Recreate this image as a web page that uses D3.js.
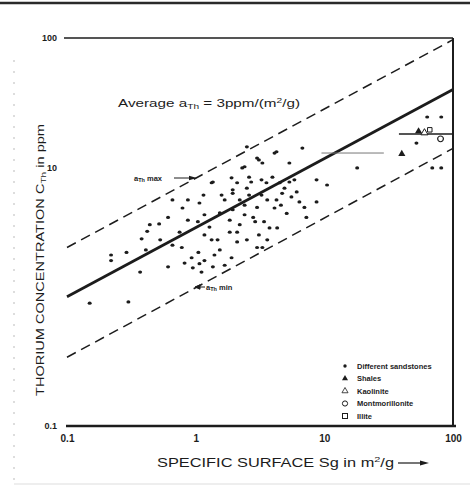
<!DOCTYPE html>
<html>
<head>
<meta charset="utf-8">
<script src="https://cdn.jsdelivr.net/npm/d3@7"></script>
<style>
  html, body { margin: 0; padding: 0; background: #fff; }
  svg { display: block; }
  text { font-family: "Liberation Sans", Arial, sans-serif; fill: #1c1c1c; }
</style>
</head>
<body>
<svg id="chart" width="470" height="487"></svg>
<script>
// Specific surface Sg (m²/g) vs thorium concentration C_Th (ppm), log–log.
const xTicks = [0.1, 1, 10, 100];
const xTickLabels = ["0.1", "1", "10", "100"];
const yTicks = [0.1, 10, 100];
const yTickLabels = ["0.1", "10", "100"];

// Regression line (average a_Th) and the a_Th max / a_Th min envelope
const fitLine = [[0.1, 1.0], [100, 40]];
const upperBound = [[0.1, 2.4], [100, 97]];
const lowerBound = [[0.1, 0.34], [100, 14]];

// Different sandstones: [Sg, C_Th]
const sandstones = [
  [0.15, 0.89], [0.30, 0.91], [0.22, 2.1], [0.22, 1.9], [0.29, 2.2], [0.37, 1.55],
  [0.41, 2.3], [0.38, 2.8], [0.42, 3.2], [0.44, 3.6], [0.52, 3.65], [0.61, 4.1],
  [0.61, 1.7], [0.66, 2.5], [0.78, 2.4], [0.66, 5.6], [0.79, 4.85], [0.87, 5.6],
  [0.87, 3.9], [0.95, 1.67], [0.93, 2.0], [1.05, 2.2], [1.17, 1.9], [1.07, 1.8],
  [1.11, 1.55], [1.36, 1.7], [1.54, 2.3], [1.33, 2.75], [1.48, 2.75], [1.17, 3.0],
  [1.28, 3.45], [1.07, 5.3], [1.17, 4.3], [1.04, 3.8], [1.33, 7.6], [1.15, 6.1],
  [1.9, 2.0], [1.84, 3.15], [2.1, 3.15], [1.84, 3.9], [1.94, 4.7], [2.1, 2.65],
  [2.5, 2.75], [2.8, 4.1], [2.9, 3.8], [3.0, 4.9], [3.4, 3.8], [3.75, 3.4],
  [3.1, 3.0], [3.0, 2.4], [3.3, 2.4], [1.94, 6.3], [2.1, 7.6], [1.9, 8.3],
  [2.5, 6.9], [2.6, 8.4], [2.7, 7.7], [2.4, 10.1], [3.0, 11.8], [3.3, 10.8],
  [4.1, 12.9], [3.55, 7.6], [3.95, 8.4], [3.6, 5.6], [4.25, 5.6], [4.1, 4.85],
  [4.6, 5.1], [4.7, 6.3], [4.9, 6.9], [5.35, 7.7], [5.85, 8.0], [5.35, 10.8],
  [6.1, 6.45], [6.4, 5.4], [7.0, 4.9], [7.25, 4.1], [8.7, 5.4], [8.7, 8.0],
  [10.5, 7.3], [5.1, 4.4], [4.3, 3.4], [2.5, 14.4], [4.25, 13.2], [6.75, 14.1],
  [3.1, 11.4], [2.3, 9.9], [1.36, 7.7], [3.25, 8.0], [1.94, 6.7], [1.54, 4.44],
  [1.68, 5.6], [2.4, 5.1], [2.6, 6.1], [2.2, 3.6], [0.82, 1.82], [18, 9.9],
  [69, 9.9], [81, 9.9], [52, 15.4], [63, 24.5], [81, 24.5],
  [1.59, 6.1], [2.2, 5.6], [3.25, 6.1], [4.5, 7.6], [5.55, 5.9], [2.4, 4.3],
  [3.6, 2.75], [0.75, 3.15], [0.53, 2.75], [1.4, 2.1], [1.68, 1.75]
];
const shales = [[40, 12.7], [54, 19]];
const kaolinite = [[60, 18.5]];
const montmorillonite = [[80, 16.6]];
const illite = [[66, 19.5]];

// Ranges of the clay-mineral / shale groups: [C_Th, Sg from, Sg to]
const rangeBars = [[12.9, 9.5, 29], [18.1, 38, 100]];

const legendLabels = ["Different sandstones", "Shales", "Kaolinite", "Montmorillonite", "Illite"];

const svg = d3.select("#chart");
const ink = "#1c1c1c";

const x = d3.scaleLog().domain([0.1, 100]).range([67, 453]);
const y = d3.scaleLog().domain([0.1, 100]).range([426, 38]);

// page edges of the scanned sheet
svg.append("line").attr("x1", 0).attr("x2", 470).attr("y1", 3).attr("y2", 3)
  .attr("stroke", "#2a2a2a").attr("stroke-width", 2.5);
svg.append("line").attr("x1", 14).attr("x2", 14).attr("y1", 60).attr("y2", 487)
  .attr("stroke", "#bbb").attr("stroke-width", 1).attr("stroke-dasharray", "2 9");
svg.append("line").attr("x1", 14).attr("x2", 470).attr("y1", 484).attr("y2", 484)
  .attr("stroke", "#ddd").attr("stroke-width", 1);

// plot frame: top, right and bottom edges
svg.append("line").attr("x1", 64).attr("x2", 453).attr("y1", y(100)).attr("y2", y(100))
  .attr("stroke", ink).attr("stroke-width", 1.6);
svg.append("line").attr("x1", x(100)).attr("x2", x(100)).attr("y1", y(100)).attr("y2", y(0.1))
  .attr("stroke", ink).attr("stroke-width", 2);
svg.append("line").attr("x1", 66).attr("x2", 456).attr("y1", y(0.1)).attr("y2", y(0.1))
  .attr("stroke", ink).attr("stroke-width", 2.6);

// axes (labels only)
const xAxis = svg.append("g").attr("transform", `translate(0,${y(0.1) + 6})`)
  .call(d3.axisBottom(x).tickValues(xTicks).tickSize(0)
    .tickFormat((d, i) => xTickLabels[i]));
xAxis.select(".domain").remove();
xAxis.selectAll("text").attr("font-size", 10).attr("font-weight", "bold")
  .attr("fill", (d) => d === 0.1 ? "#999" : ink)
  .style("font-family", "Liberation Sans, Arial, sans-serif");

const yAxis = svg.append("g").attr("transform", `translate(${x(0.1) - 7},0)`)
  .call(d3.axisLeft(y).tickValues(yTicks).tickSize(0)
    .tickFormat((d, i) => yTickLabels[i]));
yAxis.select(".domain").remove();
yAxis.selectAll("text").attr("font-size", 9).attr("font-weight", "bold")
  .attr("fill", (d) => d === 100 ? ink : "#888")
  .style("font-family", "Liberation Sans, Arial, sans-serif");

// axis titles
const xt = svg.append("text").attr("x", 157).attr("y", 467)
  .attr("font-size", 12).attr("textLength", 237).attr("lengthAdjust", "spacingAndGlyphs");
xt.append("tspan").text("SPECIFIC  SURFACE  Sg in m");
xt.append("tspan").attr("font-size", 8).attr("dy", -5).text("2");
xt.append("tspan").attr("dy", 5).text("/g");
svg.append("line").attr("x1", 398).attr("x2", 424).attr("y1", 463).attr("y2", 463)
  .attr("stroke", ink).attr("stroke-width", 1.2);
svg.append("path").attr("d", "M420,460.5 L429,463 L420,465.5 Z").attr("fill", ink);

const yt = svg.append("text").attr("transform", "translate(44,396) rotate(-90)")
  .attr("font-size", 11.5).attr("textLength", 272).attr("lengthAdjust", "spacingAndGlyphs");
yt.append("tspan").text("THORIUM CONCENTRATION  C");
yt.append("tspan").attr("font-size", 8).attr("dy", 1.5).text("Th");
yt.append("tspan").attr("dy", -1.5).text(" in ppm");

// envelope and regression line
const line = d3.line().x((d) => x(d[0])).y((d) => y(d[1]));
svg.append("path").datum(upperBound).attr("d", line).attr("fill", "none")
  .attr("stroke", ink).attr("stroke-width", 1.5).attr("stroke-dasharray", "10 6");
svg.append("path").datum(lowerBound).attr("d", line).attr("fill", "none")
  .attr("stroke", ink).attr("stroke-width", 1.5).attr("stroke-dasharray", "10 6");
svg.append("path").datum(fitLine).attr("d", line).attr("fill", "none")
  .attr("stroke", ink).attr("stroke-width", 2.8);

// range bars
svg.selectAll(".range").data(rangeBars).join("line")
  .attr("x1", (d) => x(d[1])).attr("x2", (d) => x(d[2]))
  .attr("y1", (d) => y(d[0])).attr("y2", (d) => y(d[0]))
  .attr("stroke", (d, i) => i === 0 ? "#777" : ink)
  .attr("stroke-width", (d, i) => i === 0 ? 1 : 1.5);

// data points
svg.selectAll(".ss").data(sandstones).join("ellipse")
  .attr("cx", (d) => x(d[0])).attr("cy", (d) => y(d[1]))
  .attr("rx", 2.0).attr("ry", 1.6).attr("fill", ink);

const tri = d3.symbol().type(d3.symbolTriangle).size(22);
const circ = d3.symbol().type(d3.symbolCircle).size(26);
const sq = d3.symbol().type(d3.symbolSquare).size(20);

svg.selectAll(".sh").data(shales).join("path")
  .attr("d", tri).attr("transform", (d) => `translate(${x(d[0])},${y(d[1])})`)
  .attr("fill", ink);
svg.selectAll(".ka").data(kaolinite).join("path")
  .attr("d", tri).attr("transform", (d) => `translate(${x(d[0])},${y(d[1])})`)
  .attr("fill", "#fff").attr("stroke", ink).attr("stroke-width", 1);
svg.selectAll(".mo").data(montmorillonite).join("path")
  .attr("d", circ).attr("transform", (d) => `translate(${x(d[0])},${y(d[1])})`)
  .attr("fill", "#fff").attr("stroke", ink).attr("stroke-width", 1.2);
svg.selectAll(".il").data(illite).join("path")
  .attr("d", sq).attr("transform", (d) => `translate(${x(d[0])},${y(d[1])})`)
  .attr("fill", "#fff").attr("stroke", ink).attr("stroke-width", 1);

// annotations
const avg = svg.append("text").attr("x", 118).attr("y", 107)
  .attr("font-size", 10.5).attr("textLength", 182).attr("lengthAdjust", "spacingAndGlyphs");
avg.append("tspan").text("Average  a");
avg.append("tspan").attr("font-size", 7).attr("dy", 2).text("Th");
avg.append("tspan").attr("dy", -2).text(" = 3ppm/(m");
avg.append("tspan").attr("font-size", 7).attr("dy", -4).text("2");
avg.append("tspan").attr("dy", 4).text("/g)");

const amax = svg.append("text").attr("x", 134).attr("y", 181).attr("font-size", 7.5).attr("font-weight", "bold");
amax.append("tspan").text("a");
amax.append("tspan").attr("font-size", 5.5).attr("dy", 1).text("Th");
amax.append("tspan").attr("dy", -1).text(" max");
svg.append("line").attr("x1", 174).attr("x2", 192).attr("y1", 178).attr("y2", 178)
  .attr("stroke", ink).attr("stroke-width", 1);
svg.append("path").attr("d", "M189,175.8 L197,178 L189,180.2 Z").attr("fill", ink);

const amin = svg.append("text").attr("x", 206).attr("y", 290).attr("font-size", 7.5).attr("font-weight", "bold");
amin.append("tspan").text("a");
amin.append("tspan").attr("font-size", 5.5).attr("dy", 1).text("Th");
amin.append("tspan").attr("dy", -1).text(" min");
svg.append("path").attr("d", "M205,287 L197,287 M200,284.8 L195,287 L200,289.2 Z")
  .attr("stroke", ink).attr("stroke-width", 1).attr("fill", ink);

// legend
const legend = svg.append("g");
const legendSymbols = [
  (g) => g.append("circle").attr("r", 1.7).attr("fill", ink),
  (g) => g.append("path").attr("d", d3.symbol().type(d3.symbolTriangle).size(16)).attr("fill", ink),
  (g) => g.append("path").attr("d", d3.symbol().type(d3.symbolTriangle).size(16)).attr("fill", "#fff").attr("stroke", ink).attr("stroke-width", 0.8),
  (g) => g.append("circle").attr("r", 2.6).attr("fill", "#fff").attr("stroke", ink).attr("stroke-width", 1),
  (g) => g.append("rect").attr("x", -2.5).attr("y", -2.5).attr("width", 5).attr("height", 5).attr("fill", "#fff").attr("stroke", ink).attr("stroke-width", 1)
];
legendLabels.forEach((label, i) => {
  const row = legend.append("g").attr("transform", `translate(345,${366 + i * 12.5})`);
  legendSymbols[i](row);
  row.append("text").attr("x", 12).attr("y", 2.5).attr("font-size", 7.5)
    .attr("font-weight", "bold").text(label);
});
</script>
</body>
</html>
